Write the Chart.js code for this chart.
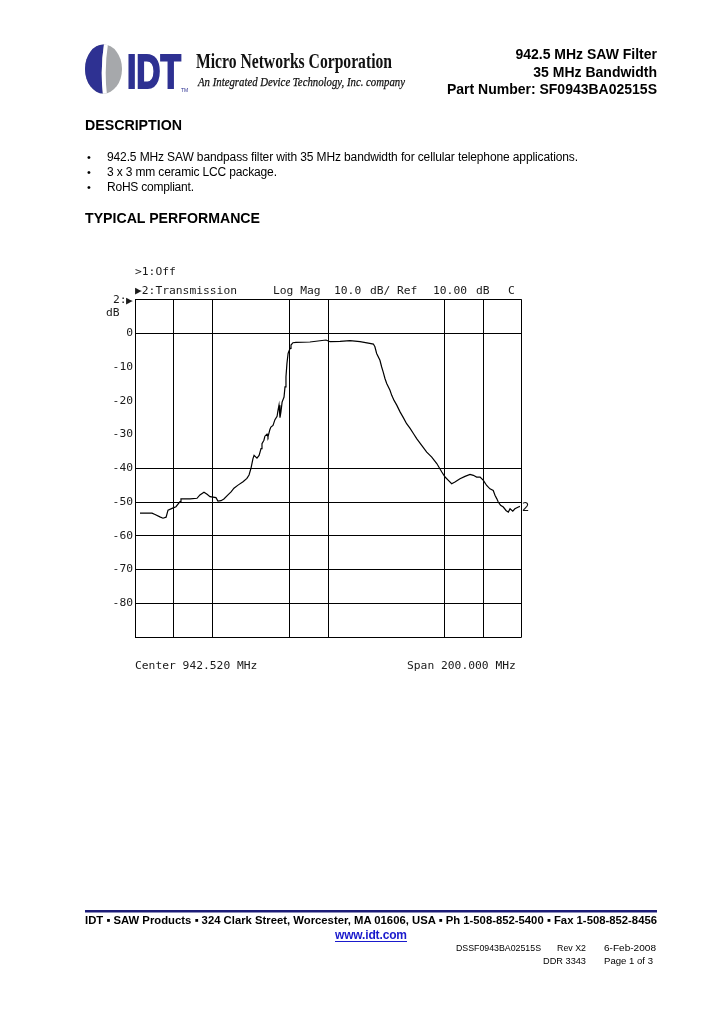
<!DOCTYPE html>
<html>
<head>
<meta charset="utf-8">
<script src="https://cdn.jsdelivr.net/npm/chart.js@4.4.1/dist/chart.umd.min.js"></script>
<style>
  html, body { margin: 0; padding: 0; background: #ffffff; }
  #page { position: relative; width: 720px; height: 1012px; overflow: hidden; background: #ffffff; }
  #chart { position: absolute; left: 100px; top: 270px; }
  #overlay { position: absolute; left: 0; top: 0; }
  .sans { font-family: "Liberation Sans", Arial, sans-serif; }
  .mono { font-family: "DejaVu Sans Mono", monospace; font-size: 11.3px; fill: #1a1a1a; }
</style>
</head>
<body>
<div id="page">
  <canvas id="chart" width="440" height="400"></canvas>
  <svg id="overlay" width="720" height="1012" xmlns="http://www.w3.org/2000/svg">
    <!-- IDT logo -->
    <defs>
      <clipPath id="ov"><ellipse cx="103.5" cy="69" rx="18.5" ry="24.5"/></clipPath>
    </defs>
    <g clip-path="url(#ov)">
      <rect x="84" y="44" width="40" height="51" fill="#a6a8ab"/>
      <path d="M84,44 L104,44 Q100,69 103,95 L84,95 Z" fill="#2e3192"/>
      <path d="M104,44 Q100,69 103,95 L107,95 Q104,69 108,44 Z" fill="#ffffff"/>
    </g>
    <text x="127" y="88" class="sans" font-weight="bold" font-size="48" fill="#2e3192" stroke="#2e3192" stroke-width="2.2" textLength="54" lengthAdjust="spacingAndGlyphs">IDT</text>
    <text x="181" y="92" class="sans" font-size="5" fill="#2e3192">TM</text>
    <text x="196" y="68" font-family="'Liberation Serif', 'Times New Roman', serif" font-weight="bold" font-size="20" fill="#111" textLength="196" lengthAdjust="spacingAndGlyphs">Micro Networks Corporation</text>
    <text x="198" y="85.5" font-family="'Liberation Serif', 'Times New Roman', serif" font-style="italic" font-size="12.5" fill="#111" stroke="#111" stroke-width="0.25" textLength="207" lengthAdjust="spacingAndGlyphs">An Integrated Device Technology, Inc. company</text>

    <!-- header right -->
    <text x="657" y="59" class="sans" font-weight="bold" font-size="14" fill="#000" text-anchor="end">942.5 MHz SAW Filter</text>
    <text x="657" y="77" class="sans" font-weight="bold" font-size="14" fill="#000" text-anchor="end">35 MHz Bandwidth</text>
    <text x="657" y="94" class="sans" font-weight="bold" font-size="14" fill="#000" text-anchor="end">Part Number: SF0943BA02515S</text>

    <!-- description -->
    <text x="85" y="130" class="sans" font-weight="bold" font-size="14" fill="#000" textLength="97" lengthAdjust="spacingAndGlyphs">DESCRIPTION</text>
    <text x="87" y="161" class="sans" font-size="11" fill="#000">•</text>
    <text x="107" y="161" class="sans" font-size="12" fill="#000" textLength="471">942.5 MHz SAW bandpass filter with 35 MHz bandwidth for cellular telephone applications.</text>
    <text x="87" y="176" class="sans" font-size="11" fill="#000">•</text>
    <text x="107" y="176" class="sans" font-size="12" fill="#000" textLength="170">3 x 3 mm ceramic LCC package.</text>
    <text x="87" y="191" class="sans" font-size="11" fill="#000">•</text>
    <text x="107" y="191" class="sans" font-size="12" fill="#000" textLength="87">RoHS compliant.</text>
    <text x="85" y="223" class="sans" font-weight="bold" font-size="14" fill="#000" textLength="175" lengthAdjust="spacingAndGlyphs">TYPICAL PERFORMANCE</text>

    <!-- analyzer annotations -->
    <text x="135" y="275" class="mono">&gt;1:Off</text>
    <text x="135" y="294" class="mono">▶2:Transmission</text>
    <text x="273" y="294" class="mono">Log Mag</text>
    <text x="334" y="294" class="mono">10.0</text>
    <text x="370" y="294" class="mono">dB/</text>
    <text x="397" y="294" class="mono">Ref</text>
    <text x="433" y="294" class="mono">10.00</text>
    <text x="476" y="294" class="mono">dB</text>
    <text x="508" y="294" class="mono">C</text>
    <text x="113" y="303" class="mono">2:</text>
    <text x="126" y="303.5" class="mono" font-size="9">▶</text>
    <text x="106" y="316" class="mono">dB</text>
    <text x="135" y="669" class="mono">Center 942.520 MHz</text>
    <text x="407" y="669" class="mono">Span 200.000 MHz</text>
    <text x="522" y="511" font-family="'DejaVu Sans', sans-serif" font-size="11.5" fill="#111">2</text>

    <!-- footer -->
    <rect x="85" y="910" width="572" height="2.5" fill="#1c1c78"/>
    <text x="85" y="924" class="sans" font-weight="bold" font-size="11.5" fill="#000" textLength="572" lengthAdjust="spacingAndGlyphs">IDT  ▪  SAW Products  ▪  324 Clark Street, Worcester, MA 01606, USA  ▪  Ph 1-508-852-5400  ▪  Fax 1-508-852-8456</text>
    <text x="335" y="939" class="sans" font-weight="bold" font-size="12" fill="#1a1acc" textLength="72">www.idt.com</text>
    <rect x="335" y="941" width="72" height="1" fill="#1a1acc"/>
    <text x="456" y="951" class="sans" font-size="9.5" fill="#000" textLength="85" lengthAdjust="spacingAndGlyphs">DSSF0943BA02515S</text>
    <text x="557" y="951" class="sans" font-size="9.5" fill="#000" textLength="29" lengthAdjust="spacingAndGlyphs">Rev X2</text>
    <text x="604" y="951" class="sans" font-size="9.5" fill="#000" textLength="52" lengthAdjust="spacingAndGlyphs">6-Feb-2008</text>
    <text x="543" y="963.5" class="sans" font-size="9.5" fill="#000" textLength="43" lengthAdjust="spacingAndGlyphs">DDR 3343</text>
    <text x="604" y="963.5" class="sans" font-size="9.5" fill="#000" textLength="49" lengthAdjust="spacingAndGlyphs">Page 1 of 3</text>
  </svg>
</div>
<script>
// ---- data (frequency in MHz, transmission in dB) ----
const freqMHz = [
  845.1, 851.3, 852.9, 855.4, 857.0, 858.6, 859.6, 861.7, 863.7, 865.8,
  866.3, 871.0, 874.6, 876.1, 878.2, 879.8, 881.3, 884.4, 885.4, 887.0,
  888.5, 890.6, 892.2, 893.7, 895.8, 898.4, 900.4, 901.5, 902.5, 903.0,
  903.5, 904.1, 905.6, 906.7, 907.7, 908.2, 909.2, 909.7, 910.8, 911.3,
  912.3, 912.8, 913.9, 914.9, 916.0, 916.5, 917.0, 917.5, 918.0, 918.6,
  919.6, 920.1, 920.6, 921.1, 921.7, 922.7, 923.2, 924.2, 925.8, 933.0,
  941.3, 943.4, 948.6, 953.7, 958.9, 963.9, 965.8, 966.6, 967.5, 969.2,
  970.1, 970.9, 971.8, 972.7, 974.4, 975.3, 976.5, 977.9, 979.6, 981.3,
  983.0, 984.8, 986.5, 988.2, 990.8, 993.4, 996.0, 998.6, 1001.2, 1002.9,
  1004.6, 1006.3, 1008.0, 1010.6, 1013.2, 1015.8, 1017.5, 1019.2, 1021.0, 1022.7,
  1024.4, 1026.1, 1027.8, 1028.7, 1029.6, 1030.4, 1031.6, 1033.0, 1034.4, 1035.6,
  1036.5, 1037.9, 1039.0, 1040.8, 1041.6
];
const s21dB = [
  -53.3, -53.3, -53.7, -54.4, -54.8, -54.5, -52.4, -51.9, -51.4, -49.9,
  -49.1, -49.1, -48.9, -47.9, -47.1, -47.7, -48.4, -48.7, -49.7, -49.6,
  -49.1, -47.9, -47.0, -45.9, -45.0, -44.0, -43.0, -42.0, -40.0, -38.6,
  -37.2, -36.2, -37.0, -36.2, -34.2, -32.7, -31.7, -30.5, -29.9, -30.7,
  -28.5, -27.8, -27.3, -25.6, -24.6, -22.8, -21.3, -25.0, -23.3, -20.4,
  -18.9, -15.9, -12.9, -9.0, -6.0, -4.5, -3.5, -2.8, -2.7, -2.6,
  -2.0, -2.5, -2.4, -2.2, -2.5, -3.0, -3.2, -4.0, -6.0, -8.0,
  -10.0, -11.5, -13.4, -14.9, -16.9, -18.4, -19.9, -21.3, -23.3, -25.0,
  -26.8, -28.2, -29.7, -31.2, -33.2, -35.2, -36.7, -38.6, -41.1, -42.6,
  -43.6, -44.6, -44.1, -43.1, -42.4, -41.8, -42.1, -42.6, -42.6, -43.6,
  -45.1, -46.1, -46.6, -48.0, -49.0, -50.0, -51.0, -51.5, -52.5, -53.0,
  -52.0, -52.7, -52.0, -51.5, -51.3
];

// ---- axis definitions ----
const centerMHz = 942.52;
const spanMHz = 200;
const xDivisions = 10;
const xGridShown = [0, 1, 2, 4, 5, 8, 9, 10];          // division lines visible on the screen
const yMaxDb = 10, yMinDb = -90, yStepDb = 10;
const yGridShown = [10, 0, -40, -50, -60, -70, -80, -90];
const yTickLabels = { "0": "0", "-10": "-10", "-20": "-20", "-30": "-30", "-40": "-40",
                      "-50": "-50", "-60": "-60", "-70": "-70", "-80": "-80" };

const xMin = centerMHz - spanMHz / 2;
const xMax = centerMHz + spanMHz / 2;

new Chart(document.getElementById('chart'), {
  type: 'line',
  data: {
    datasets: [{
      data: freqMHz.map((f, i) => ({ x: f, y: s21dB[i] })),
      borderColor: '#000000',
      borderWidth: 1.2,
      pointRadius: 0,
      tension: 0,
      fill: false
    }]
  },
  options: {
    responsive: false,
    animation: false,
    devicePixelRatio: 1,
    layout: { padding: { left: 0, top: 29.5, right: 18.3, bottom: 33 } },
    plugins: { legend: { display: false }, tooltip: { enabled: false }, title: { display: false } },
    scales: {
      x: {
        type: 'linear',
        min: xMin,
        max: xMax,
        afterBuildTicks: (s) => {
          s.ticks = Array.from({ length: xDivisions + 1 }, (_, i) => ({ value: xMin + i * spanMHz / xDivisions }));
        },
        afterFit: (s) => { s.height = 0; },
        ticks: { display: false },
        border: { display: false },
        grid: {
          drawTicks: false,
          lineWidth: 1,
          color: (ctx) => xGridShown.includes(ctx.index) ? '#000000' : 'rgba(0,0,0,0)'
        }
      },
      y: {
        min: yMinDb,
        max: yMaxDb,
        afterFit: (s) => { s.width = 35; },
        ticks: {
          stepSize: yStepDb,
          padding: 2,
          color: '#1a1a1a',
          font: { family: 'DejaVu Sans Mono', size: 11.3 },
          callback: (v) => yTickLabels[String(v)] || ''
        },
        border: { display: false },
        grid: {
          drawTicks: false,
          lineWidth: 1,
          color: (ctx) => yGridShown.includes(ctx.tick.value) ? '#000000' : 'rgba(0,0,0,0)'
        }
      }
    }
  }
});
</script>
</body>
</html>
